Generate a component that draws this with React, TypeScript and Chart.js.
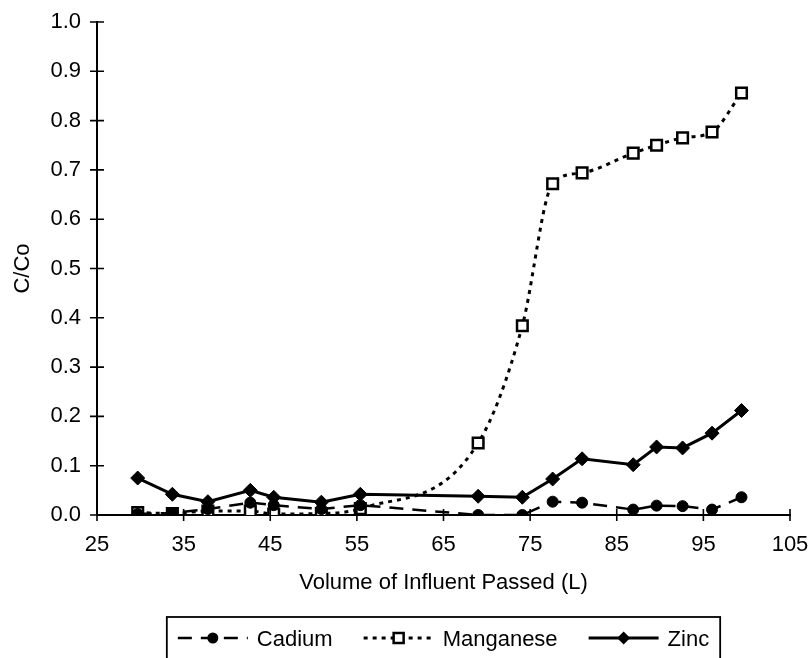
import React, { useEffect, useRef } from 'react';
import { Chart, registerables } from 'chart.js';

Chart.register(...registerables);

// Volume of influent passed (L)
const volumes = [29.7, 33.7, 37.8, 42.7, 45.4, 50.9, 55.4, 69.0, 74.1, 77.6, 81.0, 86.9, 89.6, 92.6, 96.0, 99.4];
// C/Co values
const cadium = [0.002, 0.004, 0.012, 0.025, 0.02, 0.012, 0.02, 0.0, 0.0, 0.027, 0.025, 0.011, 0.019, 0.018, 0.011, 0.036];
const manganese = [0.005, 0.003, 0.008, 0.008, 0.002, 0.003, 0.013, 0.146, 0.384, 0.672, 0.694, 0.734, 0.75, 0.765, 0.777, 0.856];
const zinc = [0.075, 0.042, 0.027, 0.05, 0.036, 0.026, 0.042, 0.038, 0.036, 0.073, 0.114, 0.102, 0.138, 0.136, 0.166, 0.212];

const seriesNames = ['Cadium', 'Manganese', 'Zinc'];
const xTitle = 'Volume of Influent Passed (L)';
const yTitle = 'C/Co';
const xMin = 25, xMax = 105, xStep = 10;
const yMin = 0, yMax = 1, yStep = 0.1;

const FONT = '"Liberation Sans", Arial, Helvetica, sans-serif';
const FONT_SIZE = 22;

const crossTicks = {
  id: 'crossTicks',
  afterDatasetsDraw(chart: any) {
    const { ctx, chartArea } = chart;
    const xs = chart.scales.x, ys = chart.scales.y;
    ctx.save();
    ctx.strokeStyle = '#000';
    ctx.lineWidth = 1.6;
    ctx.beginPath();
    ys.ticks.forEach((t: any) => {
      const py = ys.getPixelForValue(t.value);
      ctx.moveTo(chartArea.left - 7, py);
      ctx.lineTo(chartArea.left + 7, py);
    });
    xs.ticks.forEach((t: any) => {
      const px = xs.getPixelForValue(t.value);
      ctx.moveTo(px, chartArea.bottom - 6);
      ctx.lineTo(px, chartArea.bottom + 6);
    });
    ctx.stroke();
    ctx.restore();
  },
};

function drawMarker(ctx: CanvasRenderingContext2D, kind: string, x: number, y: number) {
  ctx.save();
  ctx.setLineDash([]);
  ctx.beginPath();
  if (kind === 'circle') {
    ctx.arc(x, y, 5.5, 0, Math.PI * 2);
    ctx.fillStyle = '#000';
    ctx.fill();
  } else if (kind === 'rect') {
    ctx.rect(x - 5, y - 5, 10, 10);
    ctx.fillStyle = '#fff';
    ctx.fill();
    ctx.lineWidth = 2.5;
    ctx.strokeStyle = '#000';
    ctx.stroke();
  } else {
    ctx.moveTo(x, y - 6.5);
    ctx.lineTo(x + 6.5, y);
    ctx.lineTo(x, y + 6.5);
    ctx.lineTo(x - 6.5, y);
    ctx.closePath();
    ctx.fillStyle = '#000';
    ctx.fill();
  }
  ctx.restore();
}

const customLegend = {
  id: 'customLegend',
  afterDraw(chart: any) {
    const { ctx, chartArea } = chart;
    const items = chart.data.datasets.map((ds: any) => ({
      label: ds.label,
      dash: ds.borderDash || [],
      width: ds.borderWidth,
      marker: ds.pointStyle,
    }));
    ctx.save();
    ctx.font = `${FONT_SIZE}px ${FONT}`;
    const sampleW = 70, gap = 9, itemGap = 31, pad = 11;
    const widths = items.map((it: any) => sampleW + gap + ctx.measureText(it.label).width);
    const total = pad * 2 + widths.reduce((a: number, b: number) => a + b, 0) + itemGap * (items.length - 1);
    const cx = (chartArea.left + chartArea.right) / 2;
    let x = cx - total / 2;
    const boxTop = chart.height - 41;
    ctx.strokeStyle = '#000';
    ctx.lineWidth = 1.8;
    ctx.strokeRect(x, boxTop, total, 46);
    const ly = boxTop + 21;
    x += pad;
    items.forEach((it: any, i: number) => {
      ctx.save();
      ctx.strokeStyle = '#000';
      ctx.lineWidth = it.width;
      ctx.setLineDash(it.dash);
      ctx.beginPath();
      ctx.moveTo(x, ly);
      ctx.lineTo(x + sampleW, ly);
      ctx.stroke();
      ctx.restore();
      drawMarker(ctx, it.marker, x + sampleW / 2, ly);
      ctx.fillStyle = '#000';
      ctx.textBaseline = 'middle';
      ctx.textAlign = 'left';
      ctx.fillText(it.label, x + sampleW + gap, ly + 2);
      x += widths[i] + itemGap;
    });
    ctx.restore();
  },
};

export default function App() {
  const ref = useRef<HTMLCanvasElement | null>(null);

  useEffect(() => {
    document.body.style.margin = '0';
    if (!ref.current) return;
    const toPts = (arr: number[]) => volumes.map((v, i) => ({ x: v, y: arr[i] }));
    const chart = new Chart(ref.current, {
      type: 'line',
      data: {
        datasets: [
          {
            label: seriesNames[0],
            data: toPts(cadium),
            borderColor: '#000',
            borderWidth: 2.5,
            borderDash: [14, 9],
            pointStyle: 'circle',
            pointRadius: 5.5,
            pointBackgroundColor: '#000',
            pointBorderColor: '#000',
            pointBorderWidth: 1,
            tension: 0,
            fill: false,
          },
          {
            label: seriesNames[1],
            data: toPts(manganese),
            borderColor: '#000',
            borderWidth: 3,
            borderDash: [4, 5],
            pointStyle: 'rect',
            pointRadius: 7.5,
            pointBackgroundColor: '#fff',
            pointBorderColor: '#000',
            pointBorderWidth: 2.5,
            cubicInterpolationMode: 'monotone',
            fill: false,
          },
          {
            label: seriesNames[2],
            data: toPts(zinc),
            borderColor: '#000',
            borderWidth: 3,
            pointStyle: 'rectRot',
            pointRadius: 7,
            pointBackgroundColor: '#000',
            pointBorderColor: '#000',
            pointBorderWidth: 1,
            tension: 0,
            fill: false,
          },
        ],
      } as any,
      options: {
        responsive: false,
        animation: false,
        layout: { padding: { left: 0, right: 22, top: 22, bottom: 50 } },
        plugins: { legend: { display: false }, tooltip: { enabled: false } },
        scales: {
          x: {
            type: 'linear',
            min: xMin,
            max: xMax,
            ticks: {
              stepSize: xStep,
              color: '#000',
              font: { family: FONT, size: FONT_SIZE },
              padding: 17,
              maxRotation: 0,
              autoSkip: false,
            },
            grid: { drawOnChartArea: false, drawTicks: false },
            border: { color: '#000', width: 2 },
            title: {
              display: true,
              text: xTitle,
              color: '#000',
              font: { family: FONT, size: FONT_SIZE },
              padding: { top: 0, bottom: 12 },
            },
            afterFit: (s: any) => {
              s.height = 93;
              s.paddingLeft = 0;
              s.paddingRight = 0;
            },
          },
          y: {
            min: yMin,
            max: yMax,
            ticks: {
              stepSize: yStep,
              color: '#000',
              font: { family: FONT, size: FONT_SIZE },
              padding: 16,
              callback: (v: any) => Number(v).toFixed(1),
            },
            grid: { drawOnChartArea: false, drawTicks: false },
            border: { color: '#000', width: 2 },
            title: {
              display: true,
              text: yTitle,
              color: '#000',
              font: { family: FONT, size: FONT_SIZE },
              padding: { top: 10, bottom: 0 },
            },
            afterFit: (s: any) => {
              s.width = 97;
              s.paddingTop = 0;
              s.paddingBottom = 0;
            },
          },
        },
      } as any,
      plugins: [crossTicks, customLegend],
    });
    return () => chart.destroy();
  }, []);

  return <canvas ref={ref} width={812} height={658} style={{ display: 'block' }} />;
}
